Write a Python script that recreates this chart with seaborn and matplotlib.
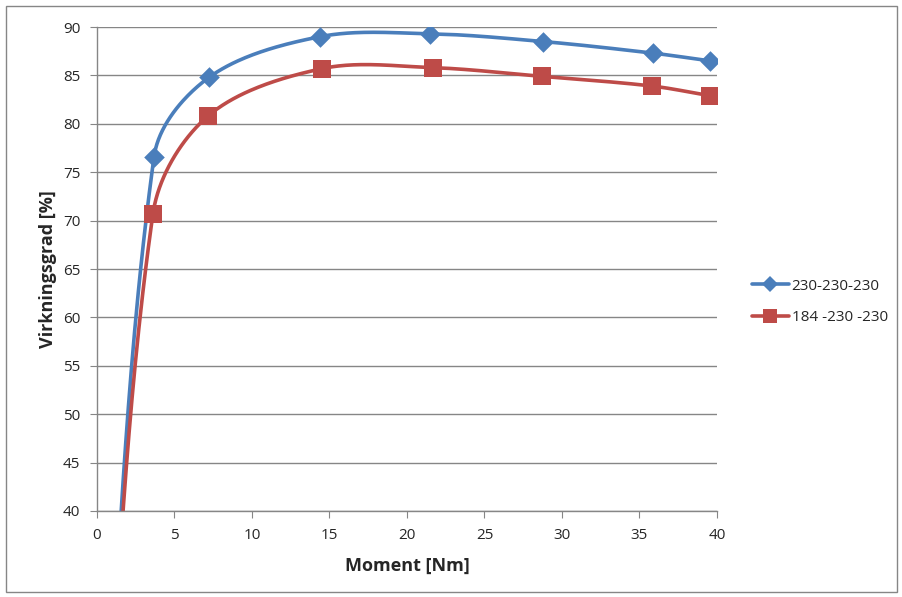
import numpy as np
import pandas as pd
import matplotlib
matplotlib.use("Agg")
import matplotlib.pyplot as plt
from matplotlib.lines import Line2D
from matplotlib.patches import Rectangle
import seaborn as sns

# -------------------------------
# Data
# -------------------------------
moment = [0.0, 3.68, 7.23, 14.39, 21.48, 28.77, 35.87, 39.55]
eff_230 = [0.0, 76.6, 84.8, 89.0, 89.3, 88.5, 87.3, 86.5]
moment_184 = [0.0, 3.61, 7.16, 14.52, 21.68, 28.71, 35.81, 39.55]
eff_184 = [0.0, 70.7, 80.8, 85.7, 85.8, 84.9, 83.9, 82.9]
labels = ["230-230-230", "184 -230 -230"]
colors = ["#4A7EBB", "#BE4B48"]
markers = ["D", "s"]

XLIM, YLIM = (0, 40), (40, 90)
AX_W, AX_H = 620, 484  # plot area in pixels


def smooth(x, y, n=60):
    # smoothed line like Excel: Bezier segments, tangents weighted by segment length
    sx = AX_W / (XLIM[1] - XLIM[0])
    sy = AX_H / (YLIM[1] - YLIM[0])
    p = np.column_stack([np.asarray(x, float) * sx, np.asarray(y, float) * sy])
    m = len(p)
    t = np.linspace(0, 1, n)[:, None]
    out = []
    for i in range(m - 1):
        p1, p2 = p[i], p[i + 1]
        d12 = np.linalg.norm(p2 - p1)
        if i > 0:
            p0 = p[i - 1]
            d01 = np.linalg.norm(p1 - p0)
            c1 = p1 + (p2 - p0) * d12 / (d01 + d12) / 3
        else:
            c1 = p1 + (p2 - p1) / 3
        if i < m - 2:
            p3 = p[i + 2]
            d23 = np.linalg.norm(p3 - p2)
            c2 = p2 - (p3 - p1) * d12 / (d12 + d23) / 3
        else:
            c2 = p2 - (p2 - p1) / 3
        seg = (1 - t) ** 3 * p1 + 3 * (1 - t) ** 2 * t * c1 + 3 * (1 - t) * t ** 2 * c2 + t ** 3 * p2
        out.append(seg)
    out = np.vstack(out)
    return out[:, 0] / sx, out[:, 1] / sy


sns.set_style("white")
plt.rcParams['font.family'] = ['Open Sans', 'DejaVu Sans']

fig = plt.figure(figsize=(9.03, 5.97), dpi=100)
ax = fig.add_axes([97 / 903, 1 - 511 / 597, AX_W / 903, AX_H / 597])

series = [(moment, eff_230), (moment_184, eff_184)]
handles = []
for (x, y), lab, c, m in zip(series, labels, colors, markers):
    sx, sy = smooth(x, y)
    sns.lineplot(x=sx, y=sy, ax=ax, color=c, linewidth=2.6, sort=False,
                 estimator=None, legend=False)
    df = pd.DataFrame({"x": x[1:], "y": y[1:]})
    sns.scatterplot(data=df, x="x", y="y", ax=ax, color=c, marker=m,
                    s=110 if m == "D" else 150, edgecolor=c, linewidth=0,
                    legend=False, zorder=3)
    handles.append(Line2D([0], [0], color=c, linewidth=2.6, marker=m,
                          markersize=8 if m == "D" else 10, markeredgewidth=0))

ax.set_xlim(*XLIM)
ax.set_ylim(*YLIM)
ax.set_xticks(range(0, 41, 5))
ax.set_yticks(range(40, 91, 5))
ax.yaxis.grid(True, color="#868686", linewidth=1)
ax.xaxis.grid(False)
for s in ["top", "right"]:
    ax.spines[s].set_visible(False)
for s in ["left", "bottom"]:
    ax.spines[s].set_color("#868686")
    ax.spines[s].set_linewidth(1)
ax.tick_params(axis="both", which="both", length=5, color="#868686",
               labelsize=11, direction="out", left=True, bottom=True, pad=7)
ax.set_xlabel("Moment [Nm]", fontsize=13, fontweight="bold", labelpad=10)
ax.set_ylabel("Virkningsgrad [%]", fontsize=13, fontweight="bold", labelpad=4)

ax.legend(handles, labels, loc="center left", bbox_to_anchor=(752 / 903, 1 - 302 / 597),
          bbox_transform=fig.transFigure, frameon=False, fontsize=11,
          handlelength=2.4, handletextpad=0.2, labelspacing=1.1,
          borderpad=0, borderaxespad=0)

fig.patches.append(Rectangle((6 / 903, 5 / 597), 891 / 903, 586 / 597,
                             transform=fig.transFigure, fill=False,
                             edgecolor="#868686", linewidth=1))

fig.savefig("out.png", dpi=100)
